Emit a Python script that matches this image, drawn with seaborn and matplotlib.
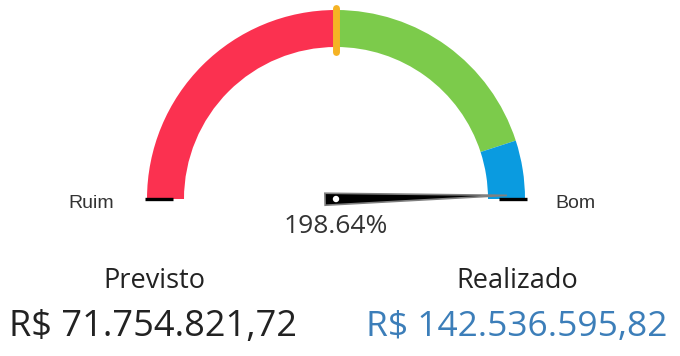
import numpy as np
import matplotlib
matplotlib.use("Agg")
import matplotlib.pyplot as plt
from matplotlib.patches import Wedge, Polygon, Circle
import seaborn as sns

# Gauge bands (percent of target) and their colours
band_edges = [0, 100, 180, 200]
band_colors = ["#FB3150", "#7CCB4B", "#0A9BE0"]
target_pct = 100
scale_max = 200

# Amounts
previsto = 71754821.72
realizado = 142536595.82
achieved_pct = round(realizado / previsto * 100, 2)

end_labels = ["Ruim", "Bom"]
amount_titles = ["Previsto", "Realizado"]


def brl(v):
    s = f"{v:,.2f}"
    return "R$ " + s.replace(",", "_").replace(".", ",").replace("_", ".")


sns.set_theme(style="white")
plt.rcParams["font.family"] = ["Open Sans", "DejaVu Sans"]

W, H = 680, 356
fig = plt.figure(figsize=(W / 100, H / 100), dpi=100)
ax = fig.add_axes([0, 0, 1, 1])
ax.set_xlim(0, W)
ax.set_ylim(0, H)
ax.axis("off")

cx, cy = 336, H - 199
r_out, r_in = 189, 152


def angle(v):
    return 180.0 - v / scale_max * 180.0


for lo, hi, col in zip(band_edges[:-1], band_edges[1:], band_colors):
    ax.add_patch(Wedge((cx, cy), r_out, angle(hi), angle(lo),
                       width=r_out - r_in, facecolor=col, edgecolor="none"))

# target marker
ta = np.deg2rad(angle(target_pct))
ax.plot([cx + 147 * np.cos(ta), cx + 191 * np.cos(ta)],
        [cy + 147 * np.sin(ta), cy + 191 * np.sin(ta)],
        color="#F5B324", lw=5, solid_capstyle="round", zorder=3)

# scale end ticks
for v in (0, scale_max):
    a = np.deg2rad(angle(v))
    ax.plot([cx + 163 * np.cos(a), cx + 191 * np.cos(a)],
            [cy + 163 * np.sin(a), cy + 191 * np.sin(a)],
            color="black", lw=2.4, solid_capstyle="butt", zorder=3)

# needle
na = np.deg2rad(angle(achieved_pct))
u = np.array([np.cos(na), np.sin(na)])
n = np.array([-u[1], u[0]])
c = np.array([cx, cy])
pts = [c - 11 * u + 6 * n, c + 171 * u, c - 11 * u - 6 * n]
ax.add_patch(Polygon(pts, closed=True, facecolor="black",
                     edgecolor="#808080", lw=1.2, zorder=4))
ax.add_patch(Circle((cx, cy), 3.2, facecolor="white", edgecolor="none", zorder=5))

# labels
ax.text(91, H - 208, end_labels[0], ha="center", va="baseline", fontsize=14,
        color="#333333", family=["Liberation Sans", "DejaVu Sans"])
ax.text(575, H - 208, end_labels[1], ha="center", va="baseline", fontsize=14,
        color="#333333", family=["Liberation Sans", "DejaVu Sans"])
ax.text(336, H - 233, f"{achieved_pct:.2f}%", ha="center", va="baseline",
        fontsize=19, color="#333333")

ax.text(154, H - 288, amount_titles[0], ha="center", va="baseline",
        fontsize=19.5, color="#222222")
ax.text(517, H - 288, amount_titles[1], ha="center", va="baseline",
        fontsize=19.5, color="#222222")
ax.text(153, H - 336, brl(previsto), ha="center", va="baseline",
        fontsize=26, color="#222222")
ax.text(517, H - 336, brl(realizado), ha="center", va="baseline",
        fontsize=25.5, color="#3C7EB9")

fig.savefig("out.png", dpi=100, facecolor="white")
